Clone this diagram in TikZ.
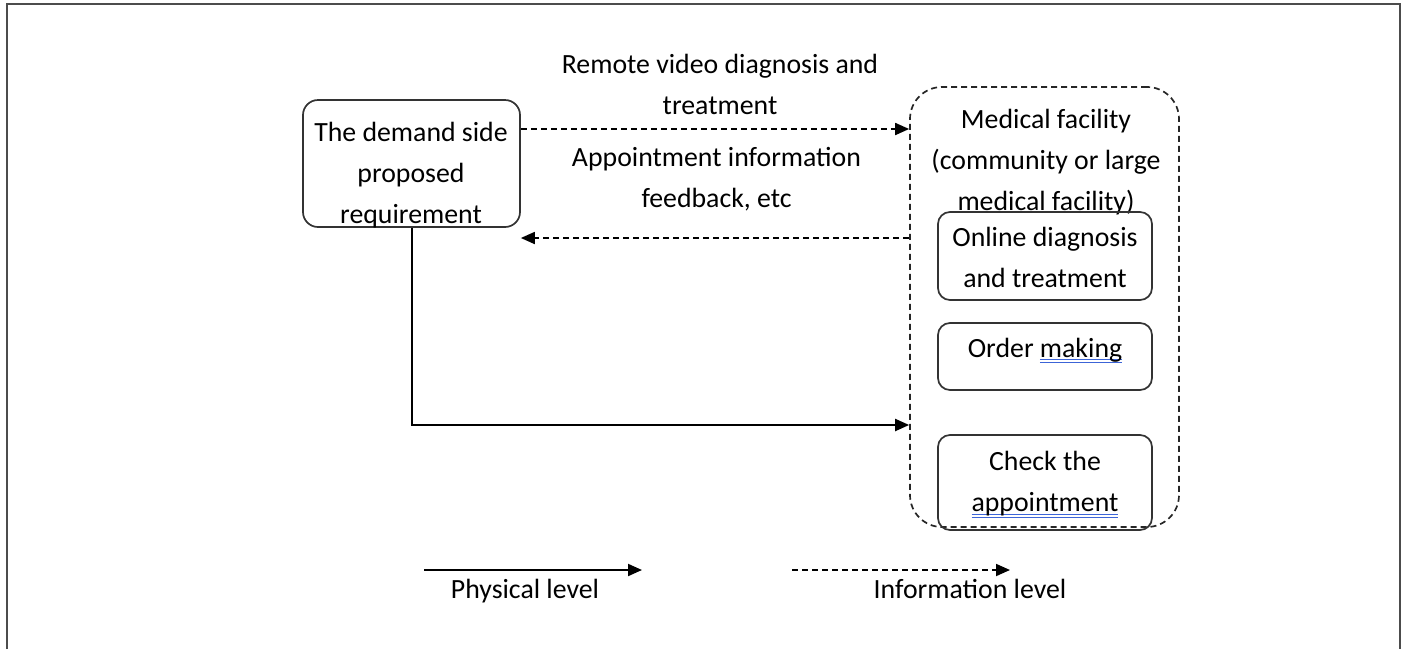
\documentclass[tikz,border=0pt]{standalone}
\usepackage{fontspec}
\setmainfont{Carlito}
\usetikzlibrary{arrows.meta}

\definecolor{spellblue}{RGB}{60,100,215}
\newcommand{\spellchk}[1]{\sbox0{#1}\rlap{\color{spellblue}\rule[-1.6pt]{\wd0}{0.55pt}}\rlap{\color{spellblue}\rule[-3.1pt]{\wd0}{0.55pt}}\usebox0}

\begin{document}
\begin{tikzpicture}[x=0.5pt, y=-0.5pt]
\tikzstyle{every node}=[font=\fontsize{13.9}{20.6}\selectfont, text=black];
\tikzstyle{txt}=[align=center, inner sep=0pt];
\tikzstyle{box}=[draw=black!80, line width=0.85pt, rounded corners=7.5pt, inner sep=0pt];
\tikzstyle{subbox}=[draw=black!80, line width=0.85pt, rounded corners=6pt, inner sep=0pt, minimum width=107pt];
\tikzstyle{group}=[draw=black!85, line width=0.85pt, dash pattern=on 3pt off 2pt, rounded corners=16pt, inner sep=0pt];
\tikzstyle{phys}=[line width=1pt, -{Triangle[length=7pt,width=6pt]}];
\tikzstyle{info}=[line width=0.9pt, dash pattern=on 3pt off 2pt, -{Triangle[length=7pt,width=6pt]}];
\useasboundingbox (0,0) rectangle (1404,649);
\draw[black!70, line width=1pt] (7,649) -- (7,4) -- (1400,4) -- (1400,649);

% boxes
\node[box, minimum width=108.5pt, minimum height=63.5pt] (demand) at (411.5,163.5) {};
\node[txt] (demandtxt) at (411,175) {The demand side\\proposed\\requirement};
\node[group, minimum width=134.5pt, minimum height=220pt] (facility) at (1044.5,307) {};
\node[txt] (facilitytxt) at (1046,162) {Medical facility\\(community or large\\medical facility)};
\node[subbox, minimum height=44pt] (online) at (1045,256) {};
\node[txt] (onlinetxt) at (1045,257.5) {Online diagnosis\\and treatment};
\node[subbox, minimum height=33.5pt] (order) at (1045,356.5) {};
\node[txt] (ordertxt) at (1045,350.5) {Order \spellchk{making}};
\node[subbox, minimum height=47.5pt] (check) at (1045,482.5) {};
\node[txt] (checktxt) at (1045,484.5) {Check the\\\spellchk{appointment}};

% connectors
\draw[info] ([yshift=17.25pt]demand.east) -- ([yshift=17.25pt]demand.east -| facility.west);
\draw[info] ([yshift=34.5pt]facility.west) -- ([yshift=34.5pt]facility.west -| demand.east);
\draw[phys] (demand.south) |- ([yshift=-59pt]facility.west);
\node[txt] (remotelbl) at (720,84.5) {Remote video diagnosis and\\treatment};
\node[txt] (feedbacklbl) at (716.5,179) {Appointment information\\feedback, etc};

% legend
\coordinate (physA) at (424,570);
\coordinate (physB) at (642,570);
\coordinate (infoA) at (792,570);
\coordinate (infoB) at (1010,570);
\draw[phys] (physA) -- (physB);
\draw[info] (infoA) -- (infoB);
\node[txt] (physlbl) at (525,591.5) {Physical level};
\node[txt] (infolbl) at (970,588.5) {Information level};
\end{tikzpicture}
\end{document}
